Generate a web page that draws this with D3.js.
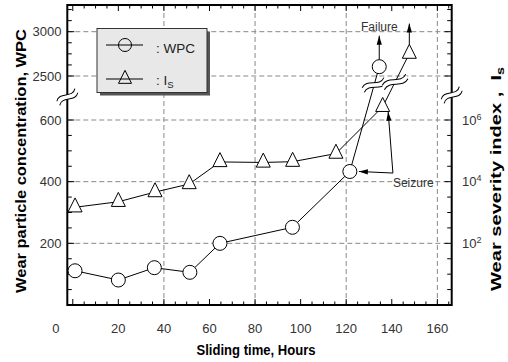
<!DOCTYPE html>
<html><head><meta charset="utf-8">
<script src="https://cdn.jsdelivr.net/npm/d3@7"></script>
<style>body{margin:0;background:#fff}svg{display:block}text{font-family:"Liberation Sans",Arial,Helvetica,sans-serif}</style>
</head><body><svg id="c" width="508" height="362"></svg>
<script>
// ---- data ----
const wpcTime = [1, 20, 35.8, 51.4, 64.6, 96.4, 121.6, 134.5];
const wpcValues = [111, 81, 121, 106, 200, 252, 433, 2605];
const isTime = [1, 20, 36.1, 51.1, 64.6, 83.6, 96.5, 115.5, 136, 147.7];
const isValues = [1480, 2230, 4600, 8400, 43600, 42000, 44500, 81600, 2.68e6, 3.2e7];
const xTickLabels = [0, 20, 40, 60, 80, 100, 120, 140, 160];
const xGridValues = [40, 80, 120, 160];
const wpcTickLabels = [200, 400, 600, 2500, 3000];
const isTickExponents = [2, 4, 6];

const svg = d3.select('#c');
svg.append('rect').attr('width', 508).attr('height', 362).attr('fill', '#fff');

const L = 67.3, R = 451.7, T = 5, B = 305;
const x = d3.scaleLinear([-2.4, 166.3], [L, R]);
const yWLow = d3.scaleLinear([0, 600], [B, 120]);
const yWHigh = d3.scaleLinear([2500, 3000], [76, 31.7]);
const yW = v => v < 1500 ? yWLow(v) : yWHigh(v);
const yILow = d3.scaleLog([1, 1e6], [B, 120]);
const yIHigh = d3.scaleLog([1e7, 1e8], [76, 31.7]);
const yI = v => v < 5e6 ? yILow(v) : yIHigh(v);

const gridColor = '#888';
// gridlines
xGridValues.forEach(v => svg.append('line').attr('x1', x(v)).attr('x2', x(v)).attr('y1', T).attr('y2', B)
  .attr('stroke', gridColor).attr('stroke-dasharray', '5,3'));
wpcTickLabels.forEach(v => svg.append('line').attr('x1', L).attr('x2', R).attr('y1', yW(v)).attr('y2', yW(v))
  .attr('stroke', gridColor).attr('stroke-dasharray', '5,3'));

// ticks
const tk = svg.append('g').attr('stroke', '#000').attr('stroke-width', 1);
d3.range(0, 166, 5).forEach(v => {
  const len = v % 20 === 0 ? 6 : 3.5;
  tk.append('line').attr('x1', x(v)).attr('x2', x(v)).attr('y1', B).attr('y2', B - len);
  tk.append('line').attr('x1', x(v)).attr('x2', x(v)).attr('y1', T).attr('y2', T + len);
});
const leftTicks = d3.range(50, 601, 50).map(v => [yWLow(v), v % 200 === 0])
  .concat(d3.range(2500, 3251, 125).map(v => [yWHigh(v), v % 500 === 0]));
leftTicks.forEach(([y, maj]) => tk.append('line').attr('x1', L).attr('x2', L + (maj ? 7 : 4.5)).attr('y1', y).attr('y2', y));
const rightTicks = d3.range(0.5, 6.01, 0.5).map(e => [yILow(Math.pow(10, e)), e % 2 === 0])
  .concat(d3.range(7, 8.51, 0.25).map(e => [yIHigh(Math.pow(10, e)), e % 1 === 0]));
rightTicks.forEach(([y, maj]) => tk.append('line').attr('x1', R).attr('x2', R - (maj ? 7 : 4.5)).attr('y1', y).attr('y2', y));

// frame
svg.append('rect').attr('x', L).attr('y', T).attr('width', R - L).attr('height', B - T)
  .attr('fill', 'none').attr('stroke', '#000').attr('stroke-width', 2);

// tick labels
const lab = svg.append('g').attr('fill', '#333').attr('font-size', 13);
const xShift = {0: -17};
xTickLabels.forEach(v => lab.append('text').attr('x', x(v) + (xShift[v] || 0)).attr('y', 333)
  .attr('text-anchor', 'middle').text(v));
wpcTickLabels.forEach(v => lab.append('text').attr('x', 61.5).attr('y', yW(v) + 4.6)
  .attr('text-anchor', 'end').text(v));
isTickExponents.forEach(e => {
  const t = lab.append('text').attr('x', 462).attr('y', yILow(Math.pow(10, e)) + 4.6);
  t.append('tspan').text('10');
  t.append('tspan').attr('font-size', 9).attr('dy', -5).text(e);
});

// titles
svg.append('text').attr('x', 256).attr('y', 355).attr('text-anchor', 'middle')
  .attr('font-size', 14).attr('font-weight', 'bold').attr('textLength', 119).attr('lengthAdjust', 'spacingAndGlyphs')
  .text('Sliding time, Hours');
svg.append('text').attr('transform', 'translate(26,161) rotate(-90)').attr('text-anchor', 'middle')
  .attr('font-size', 15.5).attr('font-weight', 'bold').attr('textLength', 264).attr('lengthAdjust', 'spacingAndGlyphs')
  .text('Wear particle concentration, WPC');
const rt = svg.append('text').attr('transform', 'translate(500.5,179) rotate(-90)').attr('text-anchor', 'middle')
  .attr('font-size', 15.5).attr('font-weight', 'bold').attr('textLength', 224).attr('lengthAdjust', 'spacingAndGlyphs')
  .attr('style', 'white-space:pre');
rt.append('tspan').text('Wear severity index ,  I');
rt.append('tspan').attr('font-size', 11).attr('dy', 3).text('s');

// data lines
const wpcPts = wpcTime.map((t, i) => [x(t), yW(wpcValues[i])]);
const isPts = isTime.map((t, i) => [x(t), yI(isValues[i])]);
const line = d3.line();
svg.append('path').attr('d', line(wpcPts)).attr('fill', 'none').attr('stroke', '#000').attr('stroke-width', 1);
svg.append('path').attr('d', line(isPts)).attr('fill', 'none').attr('stroke', '#000').attr('stroke-width', 1);

// break symbols
function brk(cx, cy, w, ang) {
  const g = svg.append('g').attr('transform', `translate(${cx},${cy}) rotate(${ang})`);
  const h = w / 2, gap = 5, a = 7;
  const top = `M${-h},${-gap/2} C${-h/3},${-gap/2 - a} ${h/3},${-gap/2 + a} ${h},${-gap/2}`;
  const bot = `M${-h},${gap/2} C${-h/3},${gap/2 - a} ${h/3},${gap/2 + a} ${h},${gap/2}`;
  const fill = `M${-h},${-gap/2} C${-h/3},${-gap/2 - a} ${h/3},${-gap/2 + a} ${h},${-gap/2} L${h},${gap/2} C${h/3},${gap/2 + a} ${-h/3},${gap/2 - a} ${-h},${gap/2} Z`;
  g.append('path').attr('d', fill).attr('fill', '#fff').attr('stroke', 'none');
  g.append('path').attr('d', top).attr('fill', 'none').attr('stroke', '#000');
  g.append('path').attr('d', bot).attr('fill', 'none').attr('stroke', '#000');
}
const breakY = 85;
function crossX(p, q, y) { const t = (p[1] - y) / (p[1] - q[1]); return p[0] + t * (q[0] - p[0]); }
brk(L, 97, 22, -35);
brk(R, 95, 22, -35);
brk(crossX(wpcPts[6], wpcPts[7], breakY), breakY, 24, -25);
brk(crossX(isPts[8], isPts[9], breakY - 3), breakY - 3, 26, -25);

// markers
const triPath = s => { const h = s, hw = s / 2; return `M0,${-2*h/3} L${hw},${h/3} L${-hw},${h/3} Z`; };
wpcPts.forEach(p => svg.append('circle').attr('cx', p[0]).attr('cy', p[1]).attr('r', 7)
  .attr('fill', '#fff').attr('stroke', '#000'));
isPts.forEach(p => svg.append('path').attr('transform', `translate(${p[0]},${p[1]})`).attr('d', triPath(14))
  .attr('fill', '#fff').attr('stroke', '#000'));

// arrows
function arrow(x1, y1, x2, y2) {
  svg.append('line').attr('x1', x1).attr('y1', y1).attr('x2', x2).attr('y2', y2).attr('stroke', '#000');
  const ang = Math.atan2(y2 - y1, x2 - x1) * 180 / Math.PI;
  svg.append('path').attr('d', 'M0,0 L-9,-2.6 L-9,2.6 Z').attr('fill', '#000')
    .attr('transform', `translate(${x2},${y2}) rotate(${ang})`);
}
const c8 = wpcPts[7], t10 = isPts[9], c7 = wpcPts[6], t9 = isPts[8];
arrow(c8[0], c8[1] - 7, c8[0], c8[1] - 31);
arrow(t10[0], t10[1] - 9.3, t10[0], t10[1] - 30);
svg.append('text').attr('x', 361).attr('y', 30.5).attr('font-size', 12).attr('fill', '#333').text('Failure');
const so = [x(140.5), yWLow(428)];
arrow(so[0], so[1], c7[0] + 9, c7[1]);
arrow(so[0], so[1], t9[0] + 5.5, t9[1] + 5);
svg.append('text').attr('x', so[0]).attr('y', so[1] + 14).attr('font-size', 12).attr('fill', '#333').text('Seizure');

// legend
const lg = svg.append('g');
lg.append('rect').attr('x', 100).attr('y', 31.5).attr('width', 110).attr('height', 64).attr('fill', '#555');
lg.append('rect').attr('x', 97).attr('y', 28.5).attr('width', 110).attr('height', 64)
  .attr('fill', '#e8e8e8').attr('stroke', '#333');
lg.append('line').attr('x1', 106).attr('x2', 143).attr('y1', 45).attr('y2', 45).attr('stroke', '#000');
lg.append('circle').attr('cx', 125).attr('cy', 45).attr('r', 6.5).attr('fill', 'none').attr('stroke', '#000');
lg.append('line').attr('x1', 106).attr('x2', 143).attr('y1', 79).attr('y2', 79).attr('stroke', '#000');
lg.append('path').attr('transform', 'translate(125,79)').attr('d', triPath(13)).attr('fill', 'none').attr('stroke', '#000');
lg.append('text').attr('x', 156).attr('y', 52.5).attr('font-size', 13.5).attr('fill', '#222').text(': WPC');
const li = lg.append('text').attr('x', 156).attr('y', 85).attr('font-size', 13.5).attr('fill', '#222');
li.append('tspan').text(': I');
li.append('tspan').attr('font-size', 9.5).attr('dy', 3).text('S');
</script></body></html>
